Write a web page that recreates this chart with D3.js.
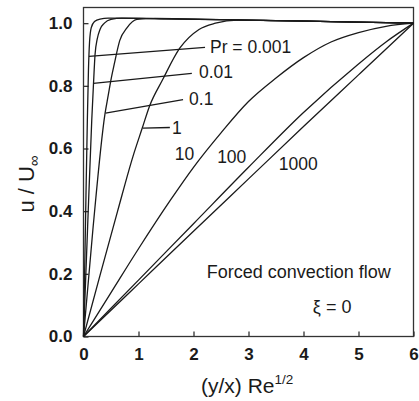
<!DOCTYPE html>
<html>
<head>
<meta charset="utf-8">
<script src="https://cdn.jsdelivr.net/npm/d3@7"></script>
<style>
  body { margin: 0; background: #fff; }
  text { font-family: "Liberation Sans", Arial, sans-serif; fill: #1a1a1a; }
</style>
</head>
<body>
<div id="chart"></div>
<script>
// velocity profiles u/U for forced convection, one array per Prandtl number
var pr0001X = [0, 0.035, 0.07, 0.09, 0.11, 0.14, 0.2, 0.3, 0.45, 1.5, 2.5, 3.5, 4.5, 6];
var pr0001U = [0, 0.35, 0.69, 0.85, 0.94, 0.985, 1.005, 1.013, 1.016, 1.014, 1.011, 1.008, 1.005, 1.0];
var pr001X = [0, 0.075, 0.15, 0.18, 0.21, 0.25, 0.3, 0.38, 0.5, 0.7, 1.5, 2.5, 3.5, 4.5, 6];
var pr001U = [0, 0.35, 0.69, 0.8, 0.9, 0.95, 0.98, 1.0, 1.012, 1.016, 1.014, 1.011, 1.008, 1.005, 1.0];
var pr01X = [0, 0.17, 0.39, 0.45, 0.5, 0.56, 0.66, 0.79, 0.97, 1.3, 2.5, 3.5, 4.5, 6];
var pr01U = [0, 0.34, 0.71, 0.77, 0.82, 0.87, 0.945, 0.985, 1.012, 1.015, 1.011, 1.008, 1.005, 1.0];
var pr1X = [0, 0.3, 0.62, 0.9, 1.07, 1.2, 1.44, 1.75, 2.1, 2.4, 2.8, 3.5, 4.5, 6];
var pr1U = [0, 0.195, 0.4, 0.575, 0.666, 0.735, 0.82, 0.92, 0.98, 1.0, 1.01, 1.008, 1.005, 1.0];
var pr10X = [0, 0.5, 1, 1.58, 2, 2.5, 3, 3.5, 4, 4.5, 5, 5.5, 6];
var pr10U = [0, 0.14, 0.28, 0.435, 0.54, 0.65, 0.75, 0.825, 0.89, 0.94, 0.97, 0.99, 1.0];
var pr100X = [0, 1, 2, 3, 4, 5, 5.5, 6];
var pr100U = [0, 0.18, 0.36, 0.54, 0.715, 0.87, 0.94, 1.0];
var pr1000X = [0, 1, 2, 3, 4, 5, 6];
var pr1000U = [0, 0.168, 0.336, 0.503, 0.67, 0.835, 1.0];

var xTicks = [0, 1, 2, 3, 4, 5, 6];
var yTicks = [0, 0.2, 0.4, 0.6, 0.8, 1.0];

var series = [
  [pr0001X, pr0001U], [pr001X, pr001U], [pr01X, pr01U], [pr1X, pr1U],
  [pr10X, pr10U], [pr100X, pr100U], [pr1000X, pr1000U]
];

// curve labels with leader lines (data units)
var labels = [
  { t: "Pr = 0.001", x: 2.3, y: 0.904, lead: [[0.1, 0.894], [2.21, 0.923]] },
  { t: "0.01", x: 2.1, y: 0.825, lead: [[0.18, 0.808], [1.97, 0.84]] },
  { t: "0.1", x: 1.92, y: 0.738, lead: [[0.4, 0.713], [1.81, 0.756]] },
  { t: "1", x: 1.61, y: 0.646, lead: [[1.08, 0.665], [1.57, 0.667]] },
  { t: "10", x: 1.66, y: 0.563 },
  { t: "100", x: 2.43, y: 0.553 },
  { t: "1000", x: 3.55, y: 0.531 }
];

var W = 419, H = 401;
var margin = { top: 7.5, right: 5.5, bottom: 64.5, left: 83.5 };
var w = W - margin.left - margin.right;
var h = H - margin.top - margin.bottom;

var svg = d3.select("#chart").append("svg")
  .attr("width", W)
  .attr("height", H);

var g = svg.append("g")
  .attr("transform", "translate(" + margin.left + "," + margin.top + ")");

var x = d3.scaleLinear().domain([0, 6]).range([0, w]);
var y = d3.scaleLinear().domain([0, 1.05]).range([h, 0]);

// frame
g.append("rect")
  .attr("width", w).attr("height", h)
  .attr("fill", "none").attr("stroke", "#333").attr("stroke-width", 1.3);

// axes with inward ticks
var xAxis = g.append("g").attr("transform", "translate(0," + h + ")")
  .call(d3.axisBottom(x).tickValues(xTicks).tickSizeInner(-5).tickSizeOuter(0).tickPadding(11).tickFormat(d3.format("d")));
var yAxis = g.append("g")
  .call(d3.axisLeft(y).tickValues(yTicks).tickSizeInner(-5).tickSizeOuter(0).tickPadding(11).tickFormat(d3.format(".1f")));

[xAxis, yAxis].forEach(function(a) {
  a.select(".domain").remove();
  a.selectAll(".tick line").attr("stroke", "#333").attr("stroke-width", 1.3);
  a.selectAll(".tick text")
    .attr("font-size", 17)
    .attr("font-weight", "bold")
    .attr("fill", "#1a1a1a")
    .attr("font-family", "Liberation Sans, Arial, sans-serif");
});

var line = d3.line()
  .x(function(d) { return x(d[0]); })
  .y(function(d) { return y(d[1]); })
  .curve(d3.curveMonotoneX);

series.forEach(function(s) {
  var pts = s[0].map(function(v, i) { return [v, s[1][i]]; });
  g.append("path")
    .attr("d", line(pts))
    .attr("fill", "none")
    .attr("stroke", "#1a1a1a")
    .attr("stroke-width", 1.3);
});

labels.forEach(function(l) {
  if (l.lead) {
    g.append("line")
      .attr("x1", x(l.lead[0][0])).attr("y1", y(l.lead[0][1]))
      .attr("x2", x(l.lead[1][0])).attr("y2", y(l.lead[1][1]))
      .attr("stroke", "#1a1a1a").attr("stroke-width", 1.3);
  }
  g.append("text")
    .attr("x", x(l.x)).attr("y", y(l.y))
    .attr("font-size", 17.5)
    .text(l.t);
});

g.append("text")
  .attr("x", x(2.24)).attr("y", y(0.186))
  .attr("font-size", 18)
  .text("Forced convection flow");

g.append("text")
  .attr("x", x(4.17)).attr("y", y(0.074))
  .attr("font-size", 18)
  .text("\u03BE = 0");

// axis titles
var xt = svg.append("text")
  .attr("x", 201).attr("y", 393)
  .attr("font-size", 21);
xt.append("tspan").text("(y/x) Re");
xt.append("tspan").attr("font-size", 13.5).attr("dy", -9).text("1/2");

var yt = svg.append("text")
  .attr("transform", "translate(34,184) rotate(-90)")
  .attr("text-anchor", "middle")
  .attr("font-size", 22);
yt.append("tspan").text("u / U");
yt.append("tspan").attr("font-size", 15).attr("dy", 5).text("\u221E");
</script>
</body>
</html>
